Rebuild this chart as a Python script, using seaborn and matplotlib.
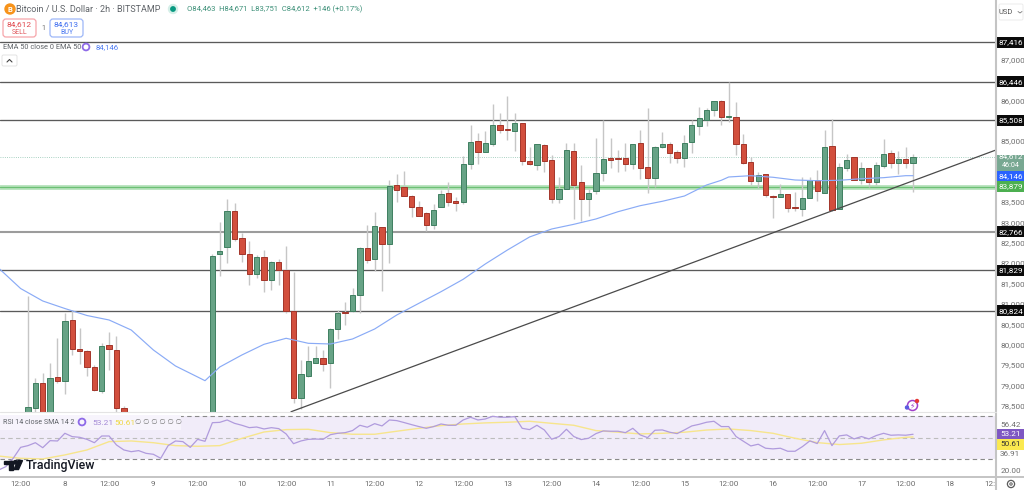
"""
plot.py
-------
Bitcoin / U.S. Dollar 2h candles with EMA 50, key levels and an RSI pane.
"""

import numpy as np
import matplotlib
matplotlib.use("Agg")
import matplotlib.pyplot as plt
from matplotlib.patches import Circle, FancyBboxPatch, Polygon, Rectangle
from matplotlib.transforms import Bbox
import seaborn as sns

# ── Candles (2h bars, first bar is index 1) ───────────────────────────────────
open_prices = [
    77950, 78443, 79049, 78000, 79204, 79113, 80603, 79891, 79850, 79457,
    78868, 79989, 79867, 78450, 77900, 77600, 77800, 77500, 77300, 77000,
    77600, 77900, 77800, 77400, 77900, 77700, 82223, 82403, 83272, 82609,
    82216, 81740, 82142, 81592, 82020, 81838, 80831, 78695, 79236, 79555,
    79663, 79555, 80375, 80807, 80816, 81224, 82378, 82101, 82893, 82461,
    83918, 83876, 83655, 83377, 83222, 82943, 83377, 83721, 83517, 83507,
    84433, 85005, 84735, 84931, 85398, 85292, 85250, 85432, 84501, 84408,
    84906, 84524, 83566, 83826, 84752, 83984, 83574, 83777, 84219, 84580,
    84580, 84573, 84440, 84941, 84367, 84096, 84857, 84924, 84720, 84587,
    84980, 85373, 85520, 85750, 85979, 85580, 85587, 84924, 84475, 84016,
    84180, 83640, 83630, 83689, 83385, 83336, 83598, 84047, 83728, 84867,
    83336, 84335, 84597, 84047, 84335, 84000, 84391, 84695, 84457, 84563, 84463,
]
high_prices = [
    81192, 79179, 79309, 79547, 80161, 80775, 80848, 80407, 79867, 79498,
    80038, 80316, 80210, 78492, 78200, 78000, 78100, 77900, 77700, 77800,
    78100, 78200, 78000, 78000, 78100, 82223, 83002, 83574, 83468, 82739,
    82543, 82198, 82321, 82058, 82093, 82419, 81774, 79621, 79965, 79965,
    79867, 80399, 80848, 81037, 81382, 82395, 82928, 83247, 82893, 84040,
    84180, 84261, 83672, 83532, 83247, 83451, 83795, 83984, 83615, 84637,
    85390, 85186, 85243, 85906, 85692, 86102, 85692, 85432, 84843, 84924,
    84916, 84654, 84107, 84941, 84941, 84401, 83826, 85079, 85513, 85079,
    84777, 84941, 84931, 85260, 85800, 84867, 85211, 84980, 84777, 85145,
    85513, 85840, 85800, 85979, 86004, 86453, 85962, 85169, 84612, 84244,
    84188, 83672, 83934, 83696, 83738, 84107, 84121, 84285, 85267, 85530,
    84465, 84671, 84612, 84489, 84342, 84489, 85047, 84777, 84752, 84858, 84671,
]
low_prices = [
    77700, 78320, 77750, 77800, 79064, 78786, 79744, 79523, 79228, 78861,
    78811, 79375, 78345, 77700, 77400, 77300, 77300, 77100, 76900, 76900,
    77400, 77500, 77300, 77300, 77500, 77500, 81683, 82010, 82550, 82034,
    81462, 81642, 81298, 81340, 81462, 80775, 78572, 78411, 79196, 79540,
    79359, 78941, 80129, 80480, 80800, 80782, 81995, 81806, 81315, 81995,
    83507, 83647, 83139, 83156, 82788, 82837, 83370, 83409, 83286, 83451,
    84303, 84427, 84730, 84875, 85186, 85015, 84752, 84416, 84416, 84285,
    84244, 83468, 83468, 83820, 83082, 83041, 83164, 83696, 84023, 84342,
    84244, 84261, 84310, 84072, 83728, 83876, 84818, 84465, 84450, 84367,
    84710, 85145, 85365, 85618, 85390, 85472, 84654, 84433, 83918, 83836,
    83630, 83115, 83625, 83247, 83286, 83156, 83590, 83532, 83720, 83286,
    83330, 84261, 84040, 83949, 83860, 83918, 84342, 84342, 84188, 84325, 83751,
]
close_prices = [
    78467, 79049, 77950, 79179, 79113, 80578, 79884, 79842, 79457, 78885,
    79965, 79884, 78450, 77900, 77600, 77800, 77500, 77300, 77000, 77600,
    77900, 77800, 77400, 77900, 77700, 82174, 82297, 83279, 82599, 82223,
    81740, 82142, 81577, 82020, 81823, 80831, 78695, 79270, 79589, 79663,
    79530, 80375, 80767, 80767, 81224, 82378, 82068, 82903, 82461, 83893,
    83795, 83655, 83377, 83164, 82943, 83311, 83696, 83507, 83483, 84433,
    84980, 84735, 84941, 85383, 85275, 85260, 85432, 84501, 84427, 84916,
    84501, 83574, 83826, 84769, 83918, 83581, 83713, 84212, 84548, 84538,
    84555, 84440, 84924, 84342, 84096, 84850, 84924, 84710, 84587, 84949,
    85383, 85555, 85750, 85979, 85587, 85604, 84924, 84465, 84023, 84156,
    83680, 83623, 83689, 83352, 83360, 83598, 84033, 83762, 84843, 83304,
    84352, 84531, 84047, 84342, 84000, 84401, 84671, 84457, 84555, 84457, 84612,
]

# ── EMA 50, read every few bars ───────────────────────────────────────────────
ema_bars = [-3, 0, 3, 6, 9, 12, 15, 18, 21, 24, 25, 27, 30, 33, 36, 39, 42, 45, 48,
            51, 54, 57, 60, 63, 66, 69, 72, 75, 78, 81, 84, 87, 90, 93, 95, 96, 99,
            102, 105, 108, 111, 114, 117, 120, 121]
ema_values = [81880, 81376, 81070, 80885, 80713, 80603, 80357, 79867, 79474, 79204,
              79113, 79449, 79744, 80006, 80154, 80031, 80014, 80137, 80382, 80726,
              81013, 81298, 81602, 81978, 82321, 82641, 82837, 82952, 83083, 83262,
              83409, 83517, 83647, 83917, 84033, 84114, 84146, 84107, 84040, 84023,
              84033, 84072, 84097, 84146, 84146]

# ── RSI 14, every bar from -3 to 121 ──────────────────────────────────────────
rsi_values = [
    20.0, 23.2, 30.9, 41.0, 42.6, 45.3, 40.7, 47.2, 46.9, 54.0, 50.9, 50.3, 48.4,
    45.3, 51.5, 51.5, 43.2, 38.6, 37.0, 38.0, 35.5, 34.6, 30.9, 42.6, 46.9, 46.3,
    41.0, 48.4, 46.6, 63.8, 64.1, 66.3, 63.2, 61.4, 59.2, 59.8, 58.0, 59.2, 58.3,
    53.4, 44.4, 46.9, 48.4, 48.7, 48.4, 52.7, 54.0, 54.6, 56.5, 61.4, 59.6, 62.9,
    60.8, 66.3, 65.7, 63.9, 62.0, 60.2, 58.6, 60.2, 62.6, 61.4, 61.4, 66.3, 68.8,
    66.3, 67.2, 69.7, 68.8, 68.8, 69.4, 58.6, 57.4, 61.4, 57.1, 48.5, 51.0, 57.7,
    51.0, 48.2, 49.4, 53.7, 56.2, 55.9, 55.9, 54.6, 58.6, 52.5, 50.0, 56.8, 57.1,
    55.0, 53.7, 57.1, 60.8, 62.3, 64.2, 65.1, 60.2, 60.2, 51.0, 46.6, 42.3, 43.9,
    40.2, 39.6, 40.2, 37.4, 37.4, 41.7, 47.0, 44.5, 56.5, 42.6, 51.6, 52.5, 48.8,
    51.0, 48.8, 51.9, 54.0, 52.2, 52.5, 52.2, 53.1,
]
sma_bars = [-3, 0, 3, 6, 9, 12, 15, 18, 21, 24, 27, 30, 33, 36, 39, 42, 45, 48, 51, 54,
            57, 60, 63, 66, 69, 72, 75, 78, 81, 84, 87, 90, 93, 96, 99, 102, 105, 108,
            111, 114, 117, 120, 121]
sma_values = [33.0, 30.9, 30.3, 34.0, 38.6, 46.3, 46.9, 45.3, 42.6, 42.0, 42.6, 49.3,
              55.2, 57.4, 57.7, 54.6, 53.1, 53.1, 55.9, 58.6, 61.1, 62.6, 63.6, 64.2,
              65.1, 63.2, 61.4, 56.5, 55.0, 53.4, 54.0, 55.0, 57.0, 58.0, 56.5, 54.0,
              49.4, 45.4, 43.6, 44.8, 47.9, 50.3, 50.6]

# ── Levels and axis labels ────────────────────────────────────────────────────
black_levels = [87416, 86446, 85508, 81829, 80824]
gray_level = 82766
green_level = 83879
last_price = 84612
ema_last = 84146
trend_bars = [36.66, 132.24]
trend_prices = [78350, 84777]

price_ticks = [78500, 79000, 79500, 80000, 80500, 81000, 81500, 82000, 82500,
               83000, 83500, 85000, 86000, 86500, 87000, 87500]
rsi_ticks = [61.7, 34.9, 20.0]
rsi_tick_labels = ["56.42", "36.91", "20.00"]
x_labels = ["12:00", "8", "12:00", "9", "12:00", "10", "12:00", "11", "12:00", "12",
            "12:00", "13", "12:00", "14", "12:00", "15", "12:00", "16", "12:00", "17",
            "12:00", "18", "12:00"]

# ── Colours ───────────────────────────────────────────────────────────────────
UP_FILL, UP_EDGE = "#67A386", "#3F7F60"
DOWN_FILL, DOWN_EDGE = "#D24F3D", "#A3352A"
WICK = "#C6C6C6"
LINE_DARK = "#5A5A5A"
AXIS_LINE = "#C4C4C4"
TICK_TEXT = "#6E6E6E"
HEAD_TEXT = "#5F6368"
RSI_PURPLE = "#B09BDD"
RSI_YELLOW = "#F7E58C"
SCALE_SIZE = 5.9

sns.set_theme(style="white")
plt.rcParams["font.family"] = ["Roboto", "DejaVu Sans"]

W, H = 1024, 490
fig = plt.figure(figsize=(W / 100, H / 100), dpi=100, facecolor="white")


def px_axes(x0, y0, x1, y1, **kw):
    """Axes placed by picture pixels, y counted from the top."""
    return fig.add_axes([x0 / W, 1 - y1 / H, (x1 - x0) / W, (y1 - y0) / H], **kw)


def add_tag(axis, centre, height, label, bg, fg, label_at=None):
    """Coloured value box in the right hand scale."""
    axis.add_patch(Rectangle((1.0012, centre - height / 2), 0.0265, height,
                             transform=axis.get_yaxis_transform(), facecolor=bg,
                             edgecolor="none", clip_on=False, zorder=6))
    axis.text(1.0145, centre if label_at is None else label_at, label, color=fg,
              fontsize=SCALE_SIZE, ha="center", va="center", zorder=7, clip_on=False,
              transform=axis.get_yaxis_transform())


ax = px_axes(0, 0, 996, 412.5)
ax_rsi = px_axes(0, 412.5, 996, 476.7)
overlay = fig.add_axes([0, 0, 1, 1], zorder=20)
overlay.set_xlim(0, W)
overlay.set_ylim(H, 0)
overlay.axis("off")
overlay.patch.set_alpha(0)

x_range = (-2.793, 132.24)

# ── Price pane ────────────────────────────────────────────────────────────────
bars = np.arange(1, len(close_prices) + 1)
opens, highs = np.array(open_prices), np.array(high_prices)
lows, closes = np.array(low_prices), np.array(close_prices)
rising = closes >= opens

for level in black_levels:
    ax.axhline(level, color=LINE_DARK, lw=0.95, zorder=1)
ax.axhline(gray_level, color="#9C9C9C", lw=1.5, zorder=1)
ax.axhline(green_level, color="#BDE5C2", lw=3.6, zorder=1)
ax.axhline(green_level, color="#6CC074", lw=1.0, zorder=1.1)
ax.axhline(last_price, color="#8CC2AE", lw=0.6, ls=":", zorder=1)

ax.vlines(bars, lows, highs, color=WICK, lw=1.0, zorder=2)
ax.bar(bars, closes - opens, bottom=opens, width=0.72, zorder=3,
       color=np.where(rising, UP_FILL, DOWN_FILL),
       edgecolor=np.where(rising, UP_EDGE, DOWN_EDGE), linewidth=0.7)

sns.lineplot(x=ema_bars, y=ema_values, ax=ax, color="#8AABF6", linewidth=0.85,
             estimator=None, zorder=4)
sns.lineplot(x=trend_bars, y=trend_prices, ax=ax, color="#4A4A4A", linewidth=0.9,
             estimator=None, zorder=4)

ax.set_xlim(*x_range)
ax.set_ylim(78332, 88459)
ax.set_xticks([])
ax.set_xlabel("")
ax.yaxis.tick_right()
ax.set_yticks(price_ticks)
ax.set_yticklabels([f"{p:,}" for p in price_ticks], fontsize=SCALE_SIZE, color=TICK_TEXT)
ax.tick_params(axis="y", length=0, pad=3)
for side in ax.spines.values():
    side.set_visible(False)

for level in black_levels + [gray_level]:
    add_tag(ax, level, 270, f"{level:,}", "#0A0A0A", "white")
add_tag(ax, green_level, 270, f"{green_level:,}", "#4CAF50", "white")
add_tag(ax, ema_last, 270, f"{ema_last:,}", "#2962FF", "white")
add_tag(ax, last_price - 160, 393, f"{last_price:,}", "#78A892", "white", label_at=last_price + 5)
ax.text(1.0145, last_price - 205, "46:04", color="white", fontsize=5.2, ha="center",
        va="center", zorder=7, transform=ax.get_yaxis_transform())

# ── RSI pane ──────────────────────────────────────────────────────────────────
ax_rsi.axhspan(30, 70, color="#F1ECF9", lw=0, zorder=0)
for level, tone in zip([70, 50, 30], ["#8A8A8A", "#BDBDBD", "#8A8A8A"]):
    ax_rsi.axhline(level, color=tone, lw=0.8, ls=(0, (4, 3)), zorder=1)
sns.lineplot(x=sma_bars, y=sma_values, ax=ax_rsi, color=RSI_YELLOW, linewidth=1.0,
             estimator=None, zorder=2)
sns.lineplot(x=np.arange(-3, 122), y=rsi_values, ax=ax_rsi, color=RSI_PURPLE,
             linewidth=0.9, estimator=None, zorder=3)

ax_rsi.set_xlim(*x_range)
ax_rsi.set_ylim(13.9, 73.2)
ax_rsi.yaxis.tick_right()
ax_rsi.set_yticks(rsi_ticks)
ax_rsi.set_yticklabels(rsi_tick_labels, fontsize=SCALE_SIZE, color=TICK_TEXT)
ax_rsi.set_xticks(np.arange(len(x_labels)) * 6)
ax_rsi.set_xticklabels(x_labels, fontsize=SCALE_SIZE, color=TICK_TEXT)
ax_rsi.tick_params(axis="y", length=0, pad=3)
ax_rsi.tick_params(axis="x", length=0, pad=3.2)
for side in ax_rsi.spines.values():
    side.set_visible(False)
for lbl in ax_rsi.get_xticklabels():
    lbl.set_clip_box(Bbox([[0, 0], [996, 490]]))
    lbl.set_clip_on(True)

add_tag(ax_rsi, 53.21, 10.2, "53.21", "#7E57C2", "white")
add_tag(ax_rsi, 43.8, 10.2, "50.61", "#FBE94F", "#333333")

# ── Frame lines ───────────────────────────────────────────────────────────────
overlay.plot([996, 996], [0, 490], color=AXIS_LINE, lw=1.5)
overlay.plot([0, 1024], [476.7, 476.7], color=AXIS_LINE, lw=1.4)
overlay.plot([0, 996], [412.3, 412.3], color="#E4E4E4", lw=0.8)

# ── Header ────────────────────────────────────────────────────────────────────
overlay.add_patch(Circle((10, 9), 5, color="#F7931A"))
overlay.text(10, 9.2, "B", color="white", fontsize=5.5, fontweight="bold", ha="center", va="center")
overlay.text(15.5, 9.5, "Bitcoin / U.S. Dollar · 2h · BITSTAMP", color=HEAD_TEXT, fontsize=6.5, va="center")
overlay.add_patch(Circle((173, 9), 4.5, color="#D5EFE8"))
overlay.add_patch(Circle((173, 9), 2.2, color="#089981"))
overlay.text(187, 9.5, "O84,463  H84,671  L83,751  C84,612  +146 (+0.17%)", color="#3B8F77",
             fontsize=5.5, va="center")

overlay.add_patch(FancyBboxPatch((3, 19), 33, 18, boxstyle="round,pad=0,rounding_size=3",
                                 facecolor="white", edgecolor="#F6A5AA", lw=0.9))
overlay.text(19.5, 24.5, "84,612", color="#E0474C", fontsize=6.0, ha="center", va="center")
overlay.text(19.5, 32.5, "SELL", color="#E0575C", fontsize=5.0, ha="center", va="center")
overlay.text(43, 28, "1", color="#6E6E6E", fontsize=5.0, ha="center", va="center")
overlay.add_patch(FancyBboxPatch((50, 19), 33, 18, boxstyle="round,pad=0,rounding_size=3",
                                 facecolor="white", edgecolor="#9DB7F8", lw=0.9))
overlay.text(66.5, 24.5, "84,613", color="#3D6DF0", fontsize=6.0, ha="center", va="center")
overlay.text(66.5, 32.5, "BUY", color="#4F7CF2", fontsize=5.0, ha="center", va="center")

overlay.text(3, 47.5, "EMA 50 close 0 EMA 50", color=HEAD_TEXT, fontsize=5.3, va="center")
overlay.add_patch(Circle((86, 47), 3.4, facecolor="none", edgecolor="#8E6AE8", lw=1.3))
overlay.text(96, 47.5, "84,146", color="#4F7CF2", fontsize=5.6, va="center")
overlay.add_patch(FancyBboxPatch((2, 55), 15, 11, boxstyle="round,pad=0,rounding_size=1.5",
                                 facecolor="white", edgecolor="#E3E3E3", lw=0.7))
overlay.plot([7, 9.5, 12], [62, 59.5, 62], color="#444444", lw=0.8)

# USD selector
overlay.add_patch(FancyBboxPatch((999, 4), 24, 16, boxstyle="round,pad=0,rounding_size=1.5",
                                 facecolor="white", edgecolor="#ECECEC", lw=0.7))
overlay.text(1006, 12, "USD", color="#555555", fontsize=5.4, ha="center", va="center")
overlay.plot([1018, 1020, 1022], [11.5, 13, 11.5], color="#777777", lw=0.6)

# ── RSI legend, logo and small icons ──────────────────────────────────────────
overlay.add_patch(Rectangle((0, 415), 181, 14.5, facecolor="#F7F4FC", edgecolor="none"))
overlay.text(3, 422.5, "RSI 14 close SMA 14 2", color=HEAD_TEXT, fontsize=5.1, va="center")
overlay.add_patch(Circle((82, 422), 3.4, facecolor="none", edgecolor="#8E6AE8", lw=1.3))
overlay.text(92, 422.5, "53.21", color="#A58BD6", fontsize=6.0, va="center")
overlay.text(114, 422.5, "50.61", color="#EFD94A", fontsize=6.0, va="center")
overlay.text(135, 422.5, "∅ ∅ ∅ ∅ ∅ ∅", color="#777777", fontsize=5.2, va="center")

overlay.add_patch(Rectangle((4, 460.5), 8.5, 3.2, color="#131722"))
overlay.add_patch(Rectangle((8.5, 460.5), 4, 9, color="#131722"))
overlay.add_patch(Circle((15.5, 462.3), 1.8, color="#131722"))
overlay.add_patch(Polygon([(14, 469.5), (18, 460.5), (22.5, 460.5), (18.5, 469.5)], color="#131722"))
overlay.text(26, 465, "TradingView", color="#131722", fontsize=8.9, fontweight="medium", va="center")

overlay.add_patch(Circle((912.5, 405.5), 5, facecolor="white", edgecolor="#A040C8", lw=1.1))
overlay.text(912.5, 405.7, "⚡", color="#A040C8", fontsize=5.5, ha="center", va="center",
             family="DejaVu Sans")
overlay.add_patch(Circle((917, 401), 1.5, color="#E53935"))
overlay.add_patch(Circle((907, 407.5), 1.5, color="#5B5BE0"))

overlay.add_patch(Circle((1011, 484), 3.6, facecolor="none", edgecolor="#5A5A5A", lw=0.9))
overlay.add_patch(Circle((1011, 484), 1.2, facecolor="none", edgecolor="#5A5A5A", lw=0.7))

fig.savefig("out.png", dpi=100)
